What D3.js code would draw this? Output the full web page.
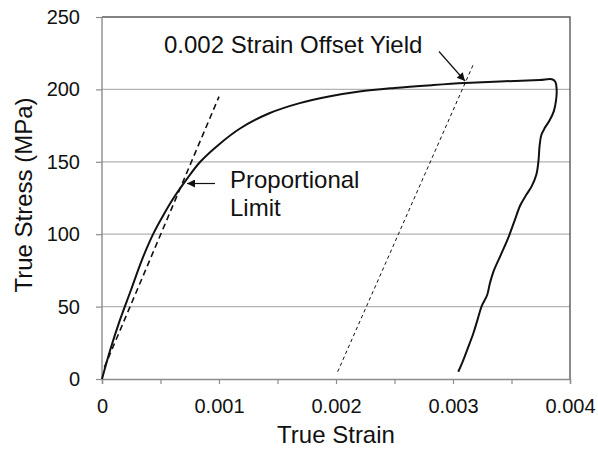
<!DOCTYPE html>
<html>
<head>
<meta charset="utf-8">
<script src="https://cdn.jsdelivr.net/npm/d3@7.9.0/dist/d3.min.js"></script>
<style>
  body { margin: 0; background: #fff; }
  svg { font-family: "Liberation Sans", Arial, sans-serif; }
</style>
</head>
<body>
<svg id="chart" width="598" height="449"></svg>
<script>
// measured curve (strain, stress in MPa): loading, then unloading
const strain = [0, 0.00007, 0.00015, 0.00025, 0.00034, 0.00044, 0.00053, 0.00062, 0.00072, 0.00084,
  0.00100, 0.00118, 0.00143, 0.00169, 0.00195, 0.00220, 0.00250, 0.00283, 0.00310, 0.00340,
  0.00374, 0.003845, 0.003874, 0.003886, 0.003880, 0.003862, 0.003825, 0.003785, 0.003755, 0.003740,
  0.003731, 0.003712, 0.003672, 0.003625, 0.003575, 0.003525, 0.003465, 0.003402, 0.003345, 0.003315,
  0.003292, 0.003245, 0.003210, 0.003174, 0.003130, 0.003088, 0.003045];
const stress = [0, 20, 40, 62, 82, 100.6, 114, 126, 137.5, 150,
  162, 173, 183.5, 190.5, 195.3, 198.6, 201, 203, 204.4, 205.5,
  206.5, 207, 205.3, 199.6, 192, 185, 178.5, 173.5, 168.5, 161,
  151, 141, 133, 127, 120, 109, 96, 84.5, 74, 66,
  58, 50.4, 41, 31.6, 22, 13.1, 5];

// elastic (proportional) line and 0.002 offset line endpoints
const elasticStrain = [0.00002, 0.001];
const elasticStress = [8, 195];
const offsetStrain = [0.002014, 0.003174];
const offsetStress = [5, 217.3];

const xTicks = [0, 0.0005, 0.001, 0.0015, 0.002, 0.0025, 0.003, 0.0035, 0.004];
const yTicks = [0, 50, 100, 150, 200, 250];

const svg = d3.select('#chart');
const x = d3.scaleLinear().domain([0, 0.004]).range([102, 570]);
const y = d3.scaleLinear().domain([0, 250]).range([379, 17]);

// gridlines
svg.append('g')
  .selectAll('line')
  .data(yTicks.filter(d => d > 0 && d < 250))
  .join('line')
  .attr('x1', x(0)).attr('x2', x(0.004))
  .attr('y1', d => y(d)).attr('y2', d => y(d))
  .attr('stroke', '#b3b3b3').attr('stroke-width', 1.2);

// top + right border
svg.append('path')
  .attr('d', `M${x(0)},${y(250)}H${x(0.004)}V${y(0)}`)
  .attr('fill', 'none').attr('stroke', '#595959').attr('stroke-width', 1.4);

// x axis
const xAxis = svg.append('g')
  .attr('transform', `translate(0,${y(0)})`)
  .call(d3.axisBottom(x).tickValues(xTicks).tickSize(5).tickPadding(15)
    .tickFormat(d => (Math.round(d * 1e4) % 10 === 0) ? (d === 0 ? '0' : d3.format('.3f')(d)) : ''));

// y axis
const yAxis = svg.append('g')
  .attr('transform', `translate(${x(0)},0)`)
  .call(d3.axisLeft(y).tickValues(yTicks).tickSize(6).tickPadding(16));

[xAxis, yAxis].forEach(g => {
  g.select('.domain').attr('stroke', '#8c8c8c').attr('stroke-width', 1.4);
  g.selectAll('.tick line').attr('stroke', '#8c8c8c').attr('stroke-width', 1.2);
  g.selectAll('.tick text').attr('fill', '#111').style('font-size', '20px')
    .style('font-family', '"Liberation Sans", Arial, sans-serif');
});
yAxis.select('.domain').attr('d', `M0,${y(250)}V${y(0)}`);

// axis titles
svg.append('text')
  .attr('x', (x(0) + x(0.004)) / 2).attr('y', 443)
  .attr('text-anchor', 'middle').style('font-size', '24px').attr('fill', '#111')
  .text('True Strain');
svg.append('text')
  .attr('transform', `translate(32,${(y(0) + y(250)) / 2 - 3}) rotate(-90)`)
  .attr('text-anchor', 'middle').style('font-size', '24px').attr('fill', '#111')
  .text('True Stress (MPa)');

const line = d3.line().x(d => x(d[0])).y(d => y(d[1]));

// offset line (fine dashes)
svg.append('path')
  .attr('d', line(d3.zip(offsetStrain, offsetStress)))
  .attr('fill', 'none').attr('stroke', '#111').attr('stroke-width', 1)
  .attr('stroke-dasharray', '3.5,3');

// elastic line (dashed)
svg.append('path')
  .attr('d', line(d3.zip(elasticStrain, elasticStress)))
  .attr('fill', 'none').attr('stroke', '#111').attr('stroke-width', 1.6)
  .attr('stroke-dasharray', '6,4');

// stress-strain curve
svg.append('path')
  .attr('d', d3.line().curve(d3.curveCatmullRom).x(d => x(d[0])).y(d => y(d[1]))(d3.zip(strain, stress)))
  .attr('fill', 'none').attr('stroke', '#111').attr('stroke-width', 2)
  .attr('stroke-linejoin', 'round');

// annotations
svg.append('defs').append('marker')
  .attr('id', 'arrow').attr('viewBox', '0 0 10 10')
  .attr('refX', 10).attr('refY', 5)
  .attr('markerWidth', 10).attr('markerHeight', 8)
  .attr('markerUnits', 'userSpaceOnUse')
  .attr('orient', 'auto')
  .append('path').attr('d', 'M0,0L10,5L0,10Z').attr('fill', '#111');

svg.append('line')
  .attr('x1', 215).attr('y1', 183.5).attr('x2', 187).attr('y2', 183.5)
  .attr('stroke', '#111').attr('stroke-width', 1.2).attr('marker-end', 'url(#arrow)');
svg.append('line')
  .attr('x1', 439).attr('y1', 51.5).attr('x2', 465).attr('y2', 81)
  .attr('stroke', '#111').attr('stroke-width', 1.2).attr('marker-end', 'url(#arrow)');

svg.append('text').attr('x', 164).attr('y', 53)
  .style('font-size', '24px').attr('fill', '#111').text('0.002 Strain Offset Yield');
const prop = svg.append('text').style('font-size', '24px').attr('fill', '#111');
prop.append('tspan').attr('x', 230).attr('y', 188).text('Proportional');
prop.append('tspan').attr('x', 230).attr('y', 216).text('Limit');
</script>
</body>
</html>
